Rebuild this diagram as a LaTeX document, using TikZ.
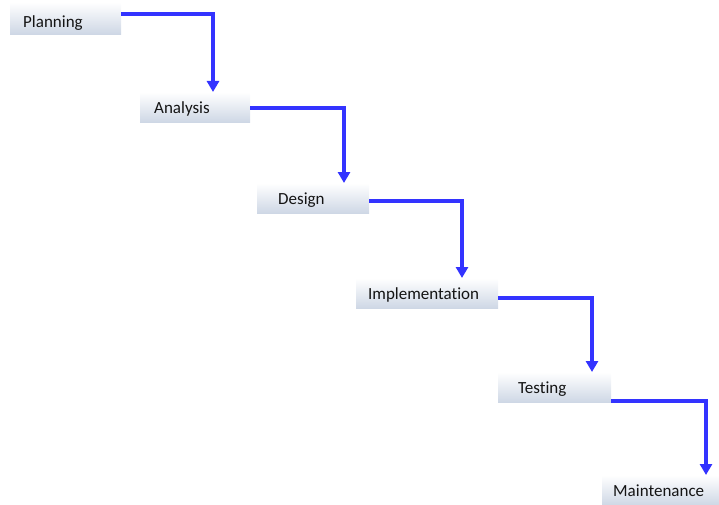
\documentclass[tikz,border=0pt]{standalone}
\usepackage{fontspec}
\setmainfont{Carlito}[Ligatures=NoCommon]
\usepackage{tikz}
\usetikzlibrary{calc,arrows.meta,shadings}
\definecolor{flowblue}{RGB}{51,51,255}
\definecolor{phasegray}{RGB}{206,215,229}
\definecolor{phasetext}{RGB}{20,20,20}

\begin{document}
\begin{tikzpicture}[x=1pt,y=-1pt,
        phase/.style={anchor=north west,rectangle,top color=white,bottom color=phasegray,
            align=left,text height=14pt,text depth=2pt,inner ysep=7pt,
            text=phasetext,font=\fontsize{17}{20}\selectfont},
        flow/.style={draw=flowblue,line width=3.5pt,-{Triangle[width=12pt,length=11pt]}}]
        % Frame
        \useasboundingbox (0,0) rectangle (719,505);
        % Phases
        \node[phase,text width=85pt,inner xsep=13pt,text height=18pt,text depth=-2pt](plan) at (10,2){Planning};
        \node[phase,text width=82pt,inner xsep=14pt](anal) at (140,92){Analysis};
        \node[phase,text width=70pt,inner xsep=21pt](desg) at (257,183){Design};
        \node[phase,text width=118pt,inner xsep=12pt](impl) at (356,278){Implementation};
        \node[phase,text width=73pt,inner xsep=20pt](test) at (498,372){Testing};
        \node[phase,text width=95pt,inner xsep=11pt](mant) at (602,475){Maintenance};
        % Steps
        \draw[flow]([yshift=-12pt]plan.north east)-|([xshift=73pt]anal.north west);
        \draw[flow]([yshift=-16pt]anal.north east)-|([xshift=87pt]desg.north west);
        \draw[flow]([yshift=-18pt]desg.north east)-|([xshift=106pt]impl.north west);
        \draw[flow]([yshift=-20pt]impl.north east)-|([xshift=94pt]test.north west);
        \draw[flow]([yshift=-29pt]test.north east)-|([xshift=104pt]mant.north west);
\end{tikzpicture}
\end{document}
